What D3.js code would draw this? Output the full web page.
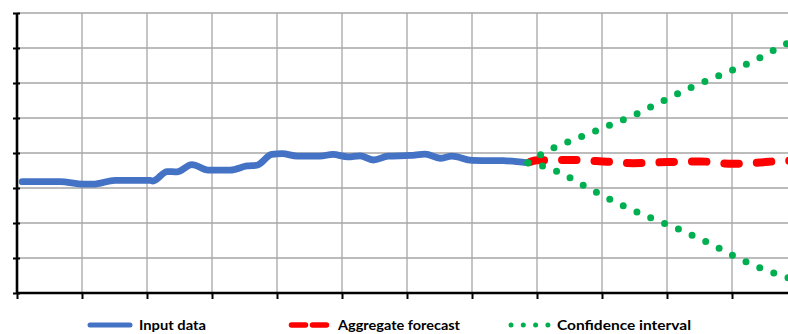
<!DOCTYPE html>
<html><head><meta charset="utf-8">
<script src="https://cdn.jsdelivr.net/npm/d3@7"></script>
<style>body{margin:0;background:#fff}svg{display:block}</style>
</head><body>
<svg id="c" width="788" height="334"></svg>
<script>
// ---- data ----
const inputT = [0.8,6.6,10.2,11.7,15.1,20.5,20.9,23.1,24.6,26.9,29.4,32.8,35.4,36.9,39.2,40.8,43.1,46.6,48.6,50.9,52.8,54.8,57.1,60.5,62.8,65.1,66.9,70.0,74.8,78.6];
const inputV = [3.18,3.18,3.11,3.11,3.22,3.22,3.20,3.47,3.46,3.67,3.51,3.51,3.63,3.65,3.96,3.98,3.91,3.91,3.96,3.89,3.92,3.80,3.91,3.93,3.97,3.85,3.91,3.79,3.78,3.72];
const forecastT = [78.6,80.0,85.5,90.8,94.8,100.0,105.1,110.2,113.8,118.6,121];
const forecastV = [3.72,3.79,3.80,3.75,3.71,3.74,3.76,3.69,3.72,3.78,3.78];
const upperT = [78.6,80.9,85.5,90.2,94.8,99.4,103.8,108.5,113.1,117.7,121];
const upperV = [3.72,3.99,4.37,4.72,5.07,5.49,5.88,6.25,6.61,7.06,7.35];
const lowerT = [78.6,81.2,83.5,88.0,92.5,97.1,101.7,106.3,110.8,115.4,117.7,121];
const lowerV = [3.72,3.61,3.44,2.99,2.56,2.18,1.83,1.44,1.01,0.64,0.49,0.30];
const xTicks = [0,10,20,30,40,50,60,70,80,90,100,110,120];
const yTicks = [0,1,2,3,4,5,6,7,8];
const legendLabels = ["Input data","Aggregate forecast","Confidence interval"];

const svg = d3.select("#c");
const x = d3.scaleLinear().domain([0,120]).range([17,797]);
const y = d3.scaleLinear().domain([0,8]).range([293,13]);

// grid
svg.append("g").selectAll("line.h").data(yTicks).join("line")
  .attr("x1",17).attr("x2",788).attr("y1",d=>y(d)).attr("y2",d=>y(d))
  .attr("stroke","#a6a6a6").attr("stroke-width",1.3);
svg.append("g").selectAll("line.v").data(xTicks.filter(d=>d>0)).join("line")
  .attr("x1",d=>x(d)).attr("x2",d=>x(d)).attr("y1",y(8)).attr("y2",y(0))
  .attr("stroke","#a6a6a6").attr("stroke-width",1.3);

// axes
const ax = svg.append("g").attr("transform",`translate(0,${y(0)})`)
  .call(d3.axisBottom(x).tickValues(xTicks).tickSize(6).tickFormat(""));
ax.select(".domain").attr("d",`M17,0H788`).attr("stroke","#000").attr("stroke-width",2.6);
ax.selectAll(".tick line").attr("stroke","#000").attr("stroke-width",2).attr("y1",-1);
const ay = svg.append("g").attr("transform",`translate(${x(0)},0)`)
  .call(d3.axisLeft(y).tickValues(yTicks).tickSize(4).tickFormat(""));
ay.select(".domain").attr("d",`M0,${y(8)}V${y(0)}`).attr("stroke","#000").attr("stroke-width",2.6);
ay.selectAll(".tick line").attr("stroke","#000").attr("stroke-width",2).attr("x1",3);

const line = d3.line().x(d=>x(d[0])).y(d=>y(d[1])).curve(d3.curveMonotoneX);
const zip = (a,b)=>a.map((t,i)=>[t,b[i]]);

svg.append("path").attr("d",line(zip(inputT,inputV)))
  .attr("fill","none").attr("stroke","#4472C4").attr("stroke-width",6.8)
  .attr("stroke-linecap","round").attr("stroke-linejoin","round");
svg.append("path").attr("d",line(zip(forecastT,forecastV)))
  .attr("fill","none").attr("stroke","#FF0000").attr("stroke-width",8)
  .attr("stroke-linecap","round").attr("stroke-dasharray","14.5,18").attr("stroke-dashoffset",-2);
[zip(upperT,upperV),zip(lowerT,lowerV)].forEach(p=>{
  svg.append("path").attr("d",line(p))
    .attr("fill","none").attr("stroke","#00B050").attr("stroke-width",7)
    .attr("stroke-linecap","round").attr("stroke-dasharray","0,15");
});

// legend
const lg = svg.append("g");
lg.append("line").attr("x1",90).attr("x2",130).attr("y1",325).attr("y2",325)
  .attr("stroke","#4472C4").attr("stroke-width",5).attr("stroke-linecap","round");
lg.append("line").attr("x1",291.5).attr("x2",328).attr("y1",325).attr("y2",325)
  .attr("stroke","#FF0000").attr("stroke-width",5.5).attr("stroke-linecap","round")
  .attr("stroke-dasharray","14,7");
lg.append("line").attr("x1",511).attr("x2",548).attr("y1",325).attr("y2",325)
  .attr("stroke","#00B050").attr("stroke-width",5).attr("stroke-linecap","round")
  .attr("stroke-dasharray","0,12.3");
const lx = [139,338,557], lw = [67,122,134];
lg.selectAll("text").data(legendLabels).join("text")
  .attr("x",(d,i)=>lx[i]).attr("y",329.5)
  .attr("textLength",(d,i)=>lw[i]).attr("lengthAdjust","spacingAndGlyphs")
  .attr("font-family","Lato, 'Open Sans', sans-serif").attr("font-weight","bold")
  .attr("font-size",13).attr("fill","#000").text(d=>d);
</script>
</body></html>
